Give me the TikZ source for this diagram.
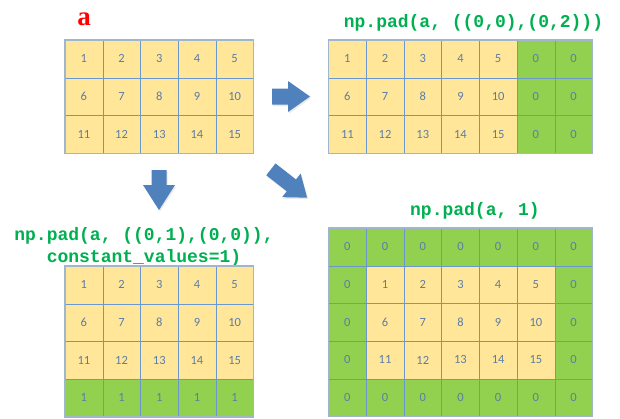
\documentclass[tikz,border=0pt]{standalone}
\usepackage{fontspec}
\setmainfont{Liberation Serif}
\newfontfamily\codefont{Liberation Mono}
\newfontfamily\numfont{Carlito}
\usetikzlibrary{shadows}

\definecolor{padyellow}{HTML}{FFE699}
\definecolor{padgreen}{HTML}{92D050}
\definecolor{gridline}{HTML}{6A98CC}
\definecolor{outerline}{HTML}{9FB6CD}
\definecolor{numcolor}{HTML}{5A7DA8}
\definecolor{codegreen}{HTML}{00B050}
\definecolor{arrowblue}{HTML}{4F81BD}

\tikzset{
  cell/.style={draw=gridline, fill=padyellow, minimum size=37.7pt, inner sep=0pt,
    font=\numfont\fontsize{12.5}{14}\selectfont, text=numcolor},
  padcell/.style={cell, fill=padgreen},
  outer/.style={draw=outerline, line width=1.5pt},
  codelabel/.style={font=\codefont\bfseries\fontsize{18}{22}\selectfont, text=codegreen,
    inner sep=0pt, align=center},
  blockarrow/.style={fill=arrowblue,
    drop shadow={opacity=0.18, shadow xshift=1pt, shadow yshift=-1.5pt}}
}

% block arrow: length, shaft half width, head half width, head length
\newcommand\blockarrowpath[4]{%
  (-#1/2,-#2) -- ({#1/2-#4},-#2) -- ({#1/2-#4},-#3) -- (#1/2,0)
  -- ({#1/2-#4},#3) -- ({#1/2-#4},#2) -- (-#1/2,#2) -- cycle}

\begin{document}
\begin{tikzpicture}[x=1pt, y=-1pt]
    \useasboundingbox (0,0) rectangle (620,418);

    % array a
    \node[font=\bfseries\fontsize{27}{30}\selectfont, text=red, inner sep=0pt] (alabel) at (84,19) {a};
    \foreach \i in {1,2,3}
      \foreach \j in {1,...,5} {
        \pgfmathtruncatemacro\v{5*(\i-1)+\j}
        \node[cell] (a-\i-\j) at ({65+37.7*(\j-0.5)}, {40+37.7*(\i-0.5)}) {\v};
      }
    \draw[outer] (a-1-1.north west) rectangle (a-3-5.south east);

    % padded on the right
    \node[codelabel] (rightlabel) at (473.5,23) {np.pad(a, ((0,0),(0,2)))};
    \foreach \i in {1,2,3} {
      \foreach \j in {1,...,5} {
        \pgfmathtruncatemacro\v{5*(\i-1)+\j}
        \node[cell] (b-\i-\j) at ({328.5+37.7*(\j-0.5)}, {40+37.7*(\i-0.5)}) {\v};
      }
      \foreach \j in {6,7}
        \node[padcell] (b-\i-\j) at ({328.5+37.7*(\j-0.5)}, {40+37.7*(\i-0.5)}) {0};
    }
    \draw[outer] (b-1-1.north west) rectangle (b-3-7.south east);

    % padded below with ones
    \node[codelabel] (belowlabel) at (144,247) {np.pad(a, ((0,1),(0,0)),\\constant\_values=1)};
    \foreach \j in {1,...,5} {
      \foreach \i in {1,2,3} {
        \pgfmathtruncatemacro\v{5*(\i-1)+\j}
        \node[cell] (c-\i-\j) at ({65+37.7*(\j-0.5)}, {266+37.7*(\i-0.5)}) {\v};
      }
      \node[padcell] (c-4-\j) at ({65+37.7*(\j-0.5)}, {266+37.7*3.5}) {1};
    }
    \draw[outer] (c-1-1.north west) rectangle (c-4-5.south east);

    % padded all round
    \node[codelabel] (rimlabel) at (475,211) {np.pad(a, 1)};
    \foreach \i in {1,...,5}
      \foreach \j in {1,...,7} {
        \pgfmathtruncatemacro\inside{(\i>1)&&(\i<5)&&(\j>1)&&(\j<7)}
        \pgfmathtruncatemacro\v{5*(\i-2)+\j-1}
        \ifnum\inside=1
          \node[cell] (d-\i-\j) at ({328.5+37.7*(\j-0.5)}, {228+37.7*(\i-0.5)}) {\v};
        \else
          \node[padcell] (d-\i-\j) at ({328.5+37.7*(\j-0.5)}, {228+37.7*(\i-0.5)}) {0};
        \fi
      }
    \draw[outer] (d-1-1.north west) rectangle (d-5-7.south east);

    % block arrows
    \begin{scope}[shift={(291,96.5)}]
      \path[blockarrow] \blockarrowpath{38}{8}{15.5}{22};
    \end{scope}
    \begin{scope}[shift={(159,190)}, rotate=-90]
      \path[blockarrow] \blockarrowpath{40}{7.5}{16}{25};
    \end{scope}
    \begin{scope}[shift={(289,183.5)}, rotate=-38]
      \path[blockarrow] \blockarrowpath{46}{7.5}{15}{20};
    \end{scope}
\end{tikzpicture}
\end{document}
